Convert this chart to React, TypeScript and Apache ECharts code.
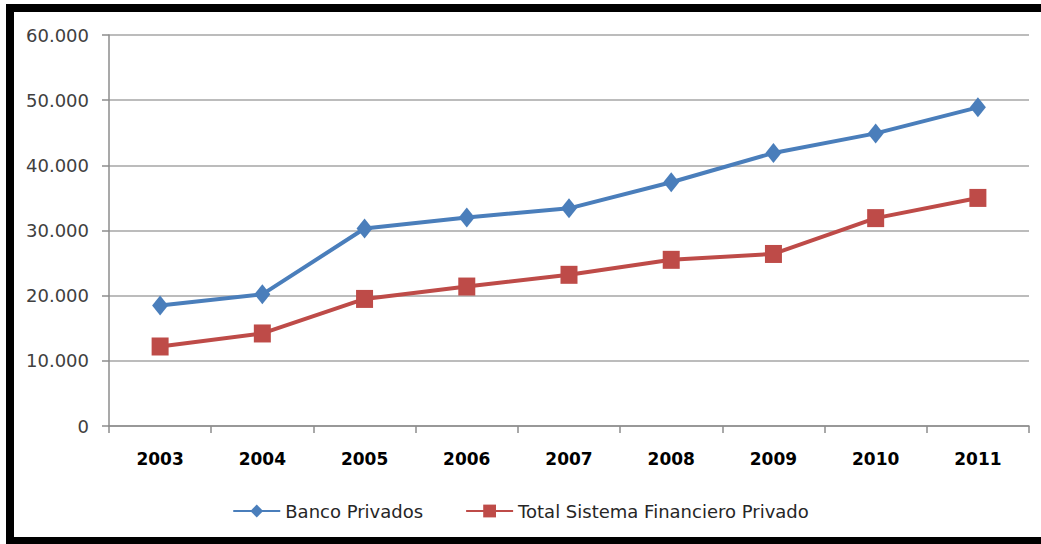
import React, { useEffect, useRef } from "react";
import * as echarts from "echarts";

const years = ["2003", "2004", "2005", "2006", "2007", "2008", "2009", "2010", "2011"];
const bancoPrivados = [18500, 20200, 30300, 32000, 33400, 37400, 41900, 44900, 48900];
const totalSistema = [12200, 14200, 19500, 21400, 23200, 25500, 26400, 31900, 35000];
const seriesNames = ["Banco Privados", "Total Sistema Financiero Privado"];

const fmt = (v: number) => {
  if (v === 0) return "0";
  const s = String(Math.round(v));
  return s.replace(/\B(?=(\d{3})+(?!\d))/g, ".");
};

export default function App() {
  const ref = useRef<HTMLDivElement>(null);
  useEffect(() => {
    if (!ref.current) return;
    const chart = echarts.init(ref.current, undefined, { renderer: "svg" });
    const font = "DejaVu Sans";
    chart.setOption({
      animation: false,
      backgroundColor: "#ffffff",
      grid: { left: 109, right: 12, top: 35, bottom: 118, containLabel: false },
      graphic: [
        { type: "rect", shape: { x: 6, y: 4, width: 1035, height: 8 }, style: { fill: "#000" } },
        { type: "rect", shape: { x: 6, y: 4, width: 8, height: 540 }, style: { fill: "#000" } },
        { type: "rect", shape: { x: 6, y: 537, width: 1035, height: 7 }, style: { fill: "#000" } },
      ],
      legend: {
        top: 497,
        left: "center",
        itemWidth: 47,
        itemHeight: 16,
        itemGap: 42,
        textStyle: { fontFamily: font, fontSize: 18, color: "#262626" },
        data: seriesNames,
      },
      xAxis: {
        type: "category",
        data: years,
        boundaryGap: true,
        axisLine: { lineStyle: { color: "#8c8c8c", width: 1.5 } },
        axisTick: { show: true, length: 7, alignWithLabel: false, lineStyle: { color: "#8c8c8c", width: 1.5 } },
        axisLabel: { margin: 24, fontFamily: font, fontSize: 17, fontWeight: "bold", color: "#000" },
      },
      yAxis: {
        type: "value",
        min: 0,
        max: 60000,
        interval: 10000,
        axisLine: { show: true, lineStyle: { color: "#8c8c8c", width: 1.5 } },
        axisTick: { show: true, length: 7, lineStyle: { color: "#8c8c8c", width: 1.5 } },
        axisLabel: { margin: 20, fontFamily: font, fontSize: 18, color: "#404040", formatter: fmt },
        splitLine: { lineStyle: { color: "#a6a6a6", width: 1.5 } },
      },
      series: [
        {
          name: seriesNames[0],
          type: "line",
          data: bancoPrivados,
          symbol: "diamond",
          symbolSize: [16, 20],
          itemStyle: { color: "#4a7ebb" },
          lineStyle: { color: "#4a7ebb", width: 4 },
        },
        {
          name: seriesNames[1],
          type: "line",
          data: totalSistema,
          symbol: "rect",
          symbolSize: [17, 18],
          itemStyle: { color: "#be4b48" },
          lineStyle: { color: "#be4b48", width: 4 },
        },
      ],
    });
    return () => chart.dispose();
  }, []);
  return (
    <div style={{ position: "fixed", left: 0, top: 0, width: 1041, height: 544, background: "#fff" }}>
      <div ref={ref} style={{ width: 1041, height: 544 }} />
    </div>
  );
}
